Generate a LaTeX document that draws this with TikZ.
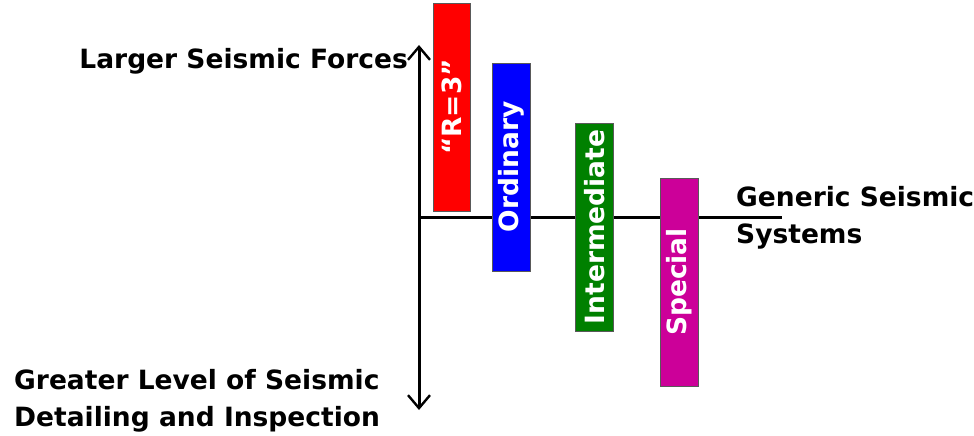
\documentclass[tikz,border=0pt]{standalone}
\usepackage{fontspec}
\setmainfont{DejaVu Sans}
\usetikzlibrary{arrows.meta}
\definecolor{rgreen}{HTML}{008000}
\definecolor{rmagenta}{HTML}{CC0099}
\tikzset{
  label/.style={font=\bfseries\fontsize{26.5}{37}\selectfont, inner sep=0pt, align=left},
  bar/.style={rotate=90, minimum width=208pt, minimum height=37.5pt, inner sep=0pt,
    draw=black!65, line width=0.8pt, text=white, font=\bfseries\fontsize{26.5}{30}\selectfont},
  axis/.style={line width=3pt, >={Straight Barb[length=13pt,width=22pt,line width=2.4pt]}}
}
\begin{document}
\begin{tikzpicture}[x=1pt, y=-1pt]
        \useasboundingbox (0,0) rectangle (974,436);
        % Axes
        \coordinate (O) at (419,217.5);
        \coordinate (top) at (419,45);
        \coordinate (bot) at (419,410);
        \coordinate (E) at (782,217.5);
        \draw[axis, <->] (bot) -- (top);
        \draw[axis] (O) -- (E);
        % Barres
        \node[bar, fill=red] (rthree) at (452,107) {“R=3”};
        \node[bar, fill=blue] (ordinary) at (511.5,167) {Ordinary};
        \node[bar, fill=rgreen] (intermediate) at (594.5,227) {Intermediate};
        \node[bar, fill=rmagenta] (special) at (679.5,282) {Special};
        % Textes
        \node[label, anchor=base east] (forces) at (408,69) {Larger Seismic Forces};
        \node[label, anchor=west] (detailing) at (14,401) {Greater Level of Seismic\\Detailing and Inspection};
        \node[label, anchor=west] (generic) at (736,218) {Generic Seismic\\Systems};
    \end{tikzpicture}
\end{document}
